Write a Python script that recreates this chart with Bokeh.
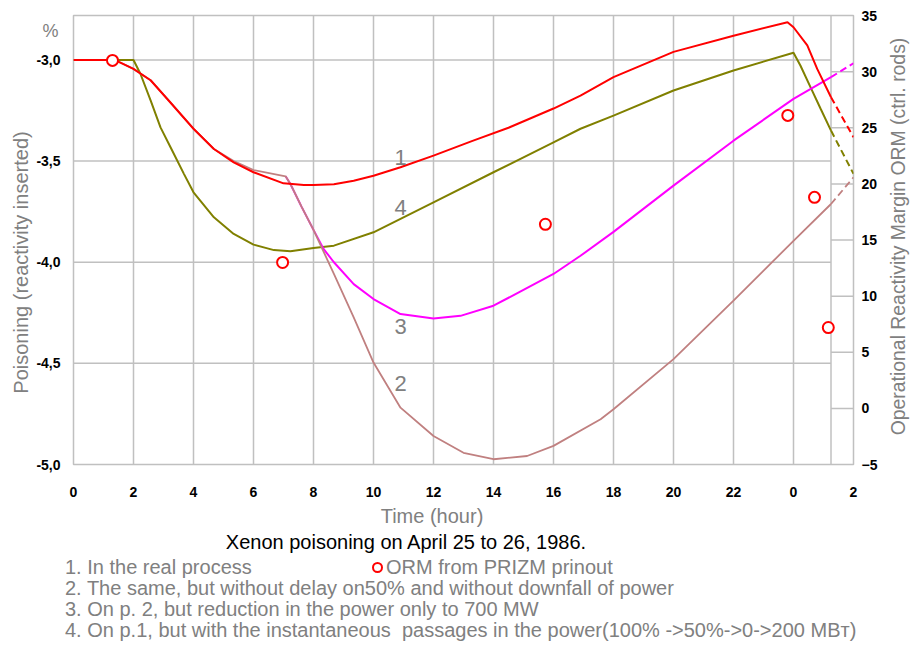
import math
from bokeh.plotting import figure
from bokeh.layouts import column
from bokeh.models import (Range1d, LinearAxis, FixedTicker, CustomJSTickFormatter, Label, Div)
from bokeh.embed import file_html
from bokeh.resources import INLINE

# ---------------- data ----------------
blast_hour = 25.25

# 1. real process (red)
hours_1 = [0, 1.3, 1.46, 2.0, 2.57, 3.23, 4.0, 4.68, 5.34, 6.0, 7.0, 7.68, 8.0, 8.68,
           9.34, 10.0, 10.9, 12.0, 13.3, 14.5, 16.0, 16.9, 18.0, 20.0, 22.0, 23.8,
           24.0, 24.46, 24.79, 25.25, 26.0]
poison_1 = [-3.0, -3.0, -3.006, -3.044, -3.10, -3.21, -3.34, -3.44, -3.506, -3.555,
            -3.61, -3.618, -3.618, -3.614, -3.597, -3.572, -3.53, -3.473, -3.40, -3.335,
            -3.24, -3.176, -3.085, -2.96, -2.88, -2.813, -2.838, -2.928, -3.044, -3.184,
            -3.382]

# 2. without delay on 50% (brown)
hours_2 = [0, 1.3, 1.46, 2.0, 2.57, 3.23, 4.0, 4.68, 5.34, 6.0, 7.07, 7.23, 7.6, 8.0,
           8.68, 9.34, 10.0, 10.9, 12.0, 13.0, 14.0, 15.12, 16.0, 17.57, 18.0, 20.0,
           22.0, 24.0, 25.25, 26.0]
poison_2 = [-3.0, -3.0, -3.006, -3.044, -3.10, -3.21, -3.34, -3.44, -3.50, -3.544,
            -3.575, -3.613, -3.725, -3.84, -4.058, -4.273, -4.496, -4.719, -4.859,
            -4.942, -4.974, -4.958, -4.908, -4.776, -4.727, -4.479, -4.19, -3.894,
            -3.712, -3.58]

# 3. reduction only to 700 MW (magenta)
hours_3 = [7.07, 7.23, 7.6, 8.0, 8.34, 8.68, 9.34, 10.0, 10.9, 12.0, 12.9, 14.0, 16.0,
           16.9, 18.0, 20.0, 22.0, 24.0, 25.25, 26.0]
poison_3 = [-3.575, -3.613, -3.725, -3.84, -3.935, -4.0, -4.108, -4.182, -4.256, -4.278,
            -4.265, -4.215, -4.058, -3.968, -3.85, -3.621, -3.399, -3.192, -3.085, -3.016]

# 4. instantaneous passages in power (olive)
hours_4 = [0, 2.0, 2.23, 2.57, 2.9, 3.23, 3.68, 4.0, 4.68, 5.34, 6.0, 6.68, 7.23, 8.0,
           8.68, 10.0, 12.0, 14.0, 16.0, 16.9, 18.0, 20.0, 22.0, 24.0, 24.23, 24.57,
           24.9, 25.25, 26.0]
poison_4 = [-3.0, -3.0, -3.068, -3.20, -3.333, -3.43, -3.563, -3.654, -3.778, -3.86,
            -3.913, -3.94, -3.946, -3.93, -3.918, -3.852, -3.704, -3.555, -3.407, -3.34,
            -3.275, -3.151, -3.052, -2.964, -3.027, -3.135, -3.24, -3.349, -3.563]

# ORM from PRIZM printout (right axis, ctrl. rods)
orm_hours = [1.3, 6.97, 15.73, 23.81, 24.7, 25.16]
orm_values = [31.0, 13.0, 16.4, 26.1, 18.8, 7.2]

x_ticks = list(range(0, 27, 2))
left_ticks = [-5.0, -4.5, -4.0, -3.5, -3.0]
right_ticks = list(range(-5, 36, 5))

curve_labels = ["1", "4", "3", "2"]
unit_label = "%"
x_title = "Time (hour)"
left_title = "Poisoning (reactivity inserted)"
right_title = "Operational Reactivity Margin ORM (ctrl. rods)"
chart_title = "Xenon poisoning on April 25 to 26, 1986."
orm_legend = "ORM from PRIZM prinout"
legend_lines = [
    "1. In the real process",
    "2. The same, but without delay on50% and without downfall of power",
    "3. On p. 2, but reduction in the power only to 700 MW",
    "4. On p.1, but with the instantaneous  passages in the power(100% ->50%->0->200 MBт)",
]

# ---------------- layout ----------------
X0, X1, Y0, Y1 = 0.0, 26.0, -5.0, -2.78
R0, R1 = -5.0, 35.0
FL, FR, FT, FB = 73, 853, 15, 464   # frame in page pixels
W = 921
H_MAIN = 504
H_LOW = 145

def hx(px):
    return X0 + (px - FL) / (FR - FL) * (X1 - X0)

def ly(py):
    return Y1 - (py - FT) / (FB - FT) * (Y1 - Y0)

FONT = "Liberation Sans"
GRAY = "#808080"
GRID = "#c0c0c0"

p = figure(width=W, height=H_MAIN, x_range=Range1d(X0, X1), y_range=Range1d(Y0, Y1),
           output_backend="svg", toolbar_location=None,
           min_border_left=FL, min_border_right=W - FR, min_border_top=FT,
           min_border_bottom=H_MAIN - FB)
p.extra_y_ranges = {"orm": Range1d(R0, R1)}
p.xgrid.visible = False
p.ygrid.visible = False
p.outline_line_color = GRID
p.outline_line_width = 1.5
p.background_fill_color = "white"
p.border_fill_color = "white"

# grid lines (left grid up to the blast moment, right grid after it)
lg = [t for t in left_ticks if Y0 < t < Y1]
p.segment(x0=[X0] * len(lg), x1=[blast_hour] * len(lg), y0=lg, y1=lg,
          line_color=GRID, line_width=1.5)
rg = [t for t in right_ticks if R0 < t < R1]
p.segment(x0=[blast_hour] * len(rg), x1=[X1] * len(rg), y0=rg, y1=rg,
          line_color=GRID, line_width=1.5, y_range_name="orm")
vg = [t for t in x_ticks if X0 < t < X1] + [blast_hour]
p.segment(x0=vg, x1=vg, y0=[Y0] * len(vg), y1=[Y1] * len(vg),
          line_color=GRID, line_width=1.5)

def draw(hours, vals, color, width):
    solid = [(h, v) for h, v in zip(hours, vals) if h <= blast_hour]
    dash = [(h, v) for h, v in zip(hours, vals) if h >= blast_hour]
    p.line([a for a, b in solid], [b for a, b in solid], line_color=color, line_width=width)
    p.line([a for a, b in dash], [b for a, b in dash], line_color=color, line_width=width,
           line_dash="7 4")

draw(hours_4, poison_4, "#808000", 2)
draw(hours_3, poison_3, "#ff00ff", 2)
draw(hours_2, poison_2, "#c08080", 1.8)
draw(hours_1, poison_1, "#ff0000", 2)

p.scatter(orm_hours, orm_values, y_range_name="orm", marker="circle", size=11,
          line_color="#ff0000", line_width=2, fill_color="white")

# axes
p.xaxis.ticker = FixedTicker(ticks=x_ticks)
p.xaxis.formatter = CustomJSTickFormatter(code="return String(tick % 24);")
p.yaxis.ticker = FixedTicker(ticks=left_ticks)
p.yaxis.formatter = CustomJSTickFormatter(code="return tick.toFixed(1).replace('.', ',');")
ra = LinearAxis(y_range_name="orm", ticker=FixedTicker(ticks=right_ticks))
p.add_layout(ra, "right")
for ax, so in ((p.xaxis[0], 22), (p.yaxis[0], 13), (ra, 8)):
    ax.axis_line_color = None
    ax.major_tick_line_color = None
    ax.minor_tick_line_color = None
    ax.major_tick_in = 0
    ax.major_tick_out = 0
    ax.minor_tick_in = 0
    ax.minor_tick_out = 0
    ax.major_label_standoff = so
    ax.major_label_text_font = FONT
    ax.major_label_text_font_size = "14px"
    ax.major_label_text_font_style = "bold"
    ax.major_label_text_color = "black"

# titles as labels placed in the side panels (not clipped by the frame)
p.add_layout(Label(x=hx(20), y=ly(262), text=left_title, angle=math.pi / 2,
                   text_font=FONT, text_font_size="20px", text_color=GRAY,
                   text_align="center", text_baseline="middle"), "left")
p.add_layout(Label(x=hx(897), y=ly(236), text=right_title, angle=math.pi / 2,
                   text_font=FONT, text_font_size="19.4px", text_color=GRAY,
                   text_align="center", text_baseline="middle"), "right")
p.add_layout(Label(x=hx(50), y=ly(30), text=unit_label,
                   text_font=FONT, text_font_size="18px", text_color=GRAY,
                   text_align="center", text_baseline="middle"), "right")

for t, yy in zip(curve_labels, [157, 207, 326, 383]):
    p.add_layout(Label(x=hx(400), y=ly(yy), text=t, text_font=FONT, text_font_size="22px",
                       text_color=GRAY, text_align="center", text_baseline="middle"))

# ---------------- lower text block ----------------
def span(text, left, cy, color=GRAY, center=False):
    tx = "-50%" if center else "0"
    return (f'<span style="position:absolute;left:{left}px;top:{cy - H_MAIN}px;'
            f'transform:translate({tx},-50%);white-space:pre;font-family:\'{FONT}\';'
            f'font-size:20px;line-height:20px;color:{color};">{text}</span>')

parts = [span(x_title, 432, 516, center=True),
         span(chart_title, 406, 542, color="black", center=True)]
for t, yy in zip(legend_lines, [567, 588, 609, 630]):
    parts.append(span(t, 65, yy))
parts.append(span(orm_legend, 386, 567))
parts.append('<span style="position:absolute;box-sizing:border-box;left:371.5px;top:%.1fpx;'
             'width:11px;height:11px;border:2px solid #ff0000;border-radius:50%%;'
             'background:white;"></span>' % (567 - H_MAIN - 5.5))
html = ('<div style="position:relative;width:%dpx;height:%dpx;background:white;">'
        % (W, H_LOW)) + "".join(parts) + "</div>"
low = Div(text=html, width=W, height=H_LOW, margin=0)

layout = column(p, low, spacing=0)
open("out.html", "w").write(file_html(layout, INLINE))
